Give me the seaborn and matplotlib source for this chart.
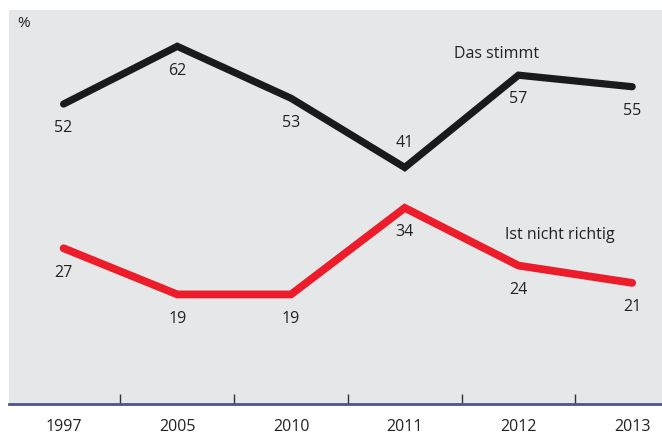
import seaborn as sns
import matplotlib.pyplot as plt
import pandas as pd

years = ['1997', '2005', '2010', '2011', '2012', '2013']
stimmt = [52, 62, 53, 41, 57, 55]
nicht_richtig = [27, 19, 19, 34, 24, 21]

# Position der Wertelabels: -1 = unter dem Punkt, +1 = darueber
stimmt_pos = [-1, -1, -1, 1, -1, -1]
nicht_pos = [-1, -1, -1, -1, -1, -1]

sns.set_style('white')
plt.rcParams['font.family'] = ['Open Sans', 'DejaVu Sans']

df = pd.DataFrame({'Jahr': years, 'Das stimmt': stimmt, 'Ist nicht richtig': nicht_richtig})
df['x'] = range(len(years))

fig = plt.figure(figsize=(6.62, 4.34), dpi=100)
ax = fig.add_axes([0.0136, 0.069, 0.986, 0.908])
ax.set_facecolor('#e6e7e9')

sns.lineplot(data=df, x='x', y='Das stimmt', color='#1a1a1a', linewidth=5.2, ax=ax,
             solid_capstyle='round', solid_joinstyle='miter')
sns.lineplot(data=df, x='x', y='Ist nicht richtig', color='#ec1c2a', linewidth=5.6, ax=ax,
             solid_capstyle='round', solid_joinstyle='miter')

for i in range(len(years)):
    ax.annotate(str(stimmt[i]), (i, stimmt[i]), xytext=(0, 17.5 * stimmt_pos[i]),
                textcoords='offset points', ha='center', va='center', fontsize=11.5, color='#222222')
    ax.annotate(str(nicht_richtig[i]), (i, nicht_richtig[i]), xytext=(0, 17.5 * nicht_pos[i]),
                textcoords='offset points', ha='center', va='center', fontsize=11.5, color='#222222')

ax.text(3.43, 60.6, 'Das stimmt', fontsize=11.5, color='#222222', va='center')
ax.text(3.88, 29.3, 'Ist nicht richtig', fontsize=11.5, color='#222222', va='center')
ax.text(0.012, 0.965, '%', transform=ax.transAxes, fontsize=11, color='#222222', va='center')

ax.set_xlim(-0.48, 5.26)
ax.set_ylim(0, 68.3)
ax.set_xticks(range(len(years)))
ax.set_xticklabels(years, fontsize=11.5, color='#222222')
ax.set_xticks([i + 0.5 for i in range(len(years) - 1)], minor=True)
ax.tick_params(axis='x', which='major', bottom=False, length=0, pad=11)
ax.tick_params(axis='x', which='minor', bottom=True, direction='in', length=7, width=1, color='#333333')
ax.set_yticks([])
ax.set_xlabel('')
ax.set_ylabel('')

for s in ['top', 'left', 'right']:
    ax.spines[s].set_visible(False)
ax.spines['bottom'].set_color('#4d5290')
ax.spines['bottom'].set_linewidth(2)

plt.savefig('out.png', dpi=100)
